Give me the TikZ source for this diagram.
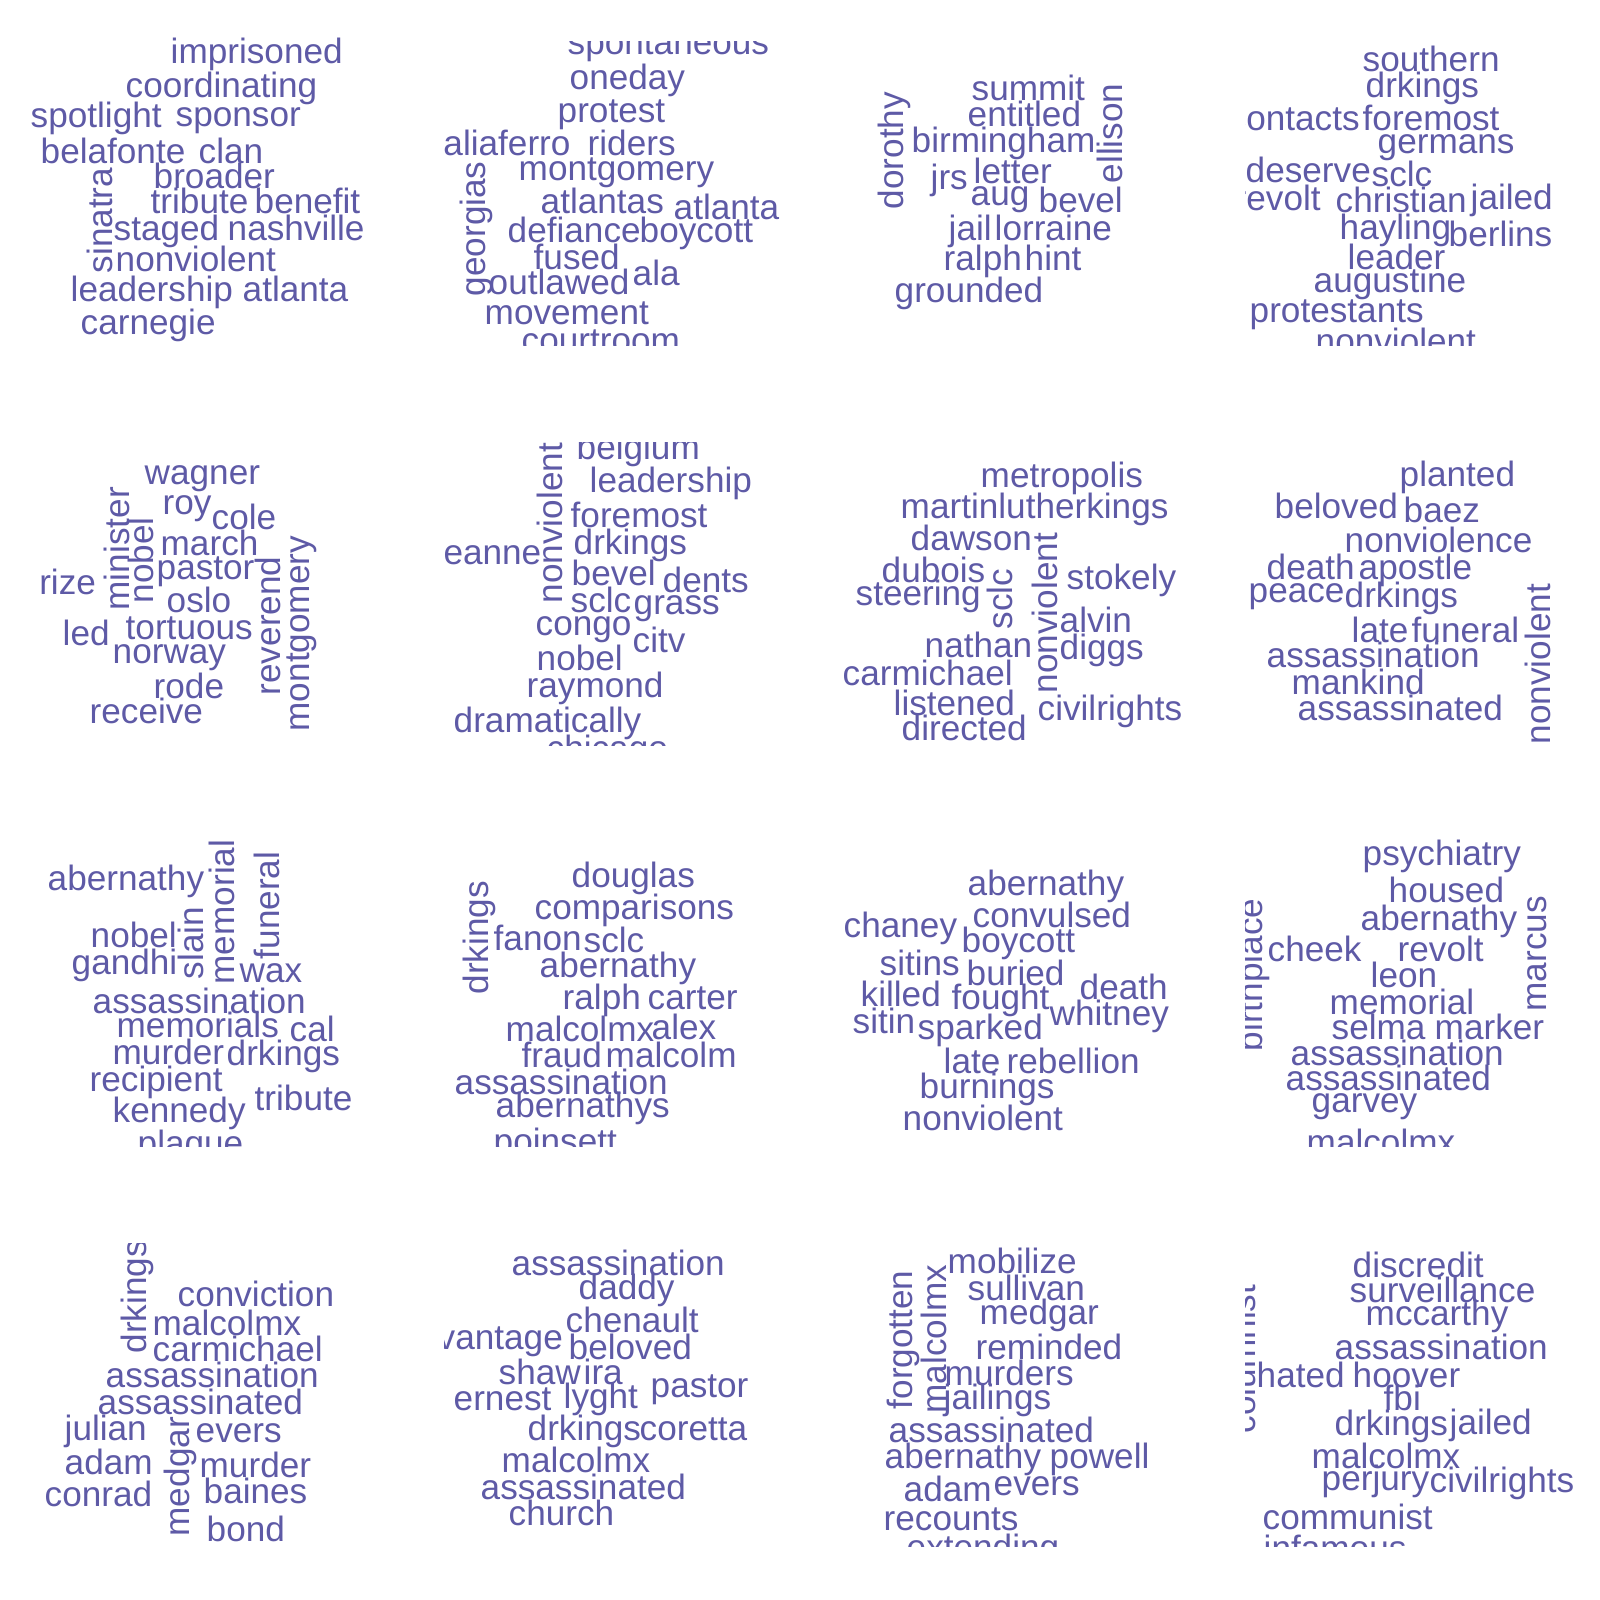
\documentclass[tikz,border=0pt]{standalone}
\usepackage{fontspec}
\newfontfamily\cloudfont{Liberation Sans}
\definecolor{cloudcol}{RGB}{94,90,166}
\tikzset{
  cloudword/.style={font=\cloudfont\fontsize{10}{12}\selectfont, text=cloudcol, inner sep=0pt, anchor=base west, xshift=-0.02cm, yshift=-0.02cm},
  cloudvert/.style={cloudword, rotate=90}
}
\begin{document}
\begin{tikzpicture}[x=0.01cm, y=-0.01cm]
\pgfmathsetmacro{\panelw}{345}
\pgfmathsetmacro{\panelh}{303.3}
\useasboundingbox (0,0) rectangle (1600,1600);
% row 1
\begin{scope}
\clip (20,30) rectangle (390,345);
\node[cloudword] (a-imprisoned) at (172,62) {imprisoned};
\node[cloudword] (a-coordinating) at (127,96) {coordinating};
\node[cloudword] (a-spotlight) at (32,126) {spotlight};
\node[cloudword] (a-sponsor) at (177,124) {sponsor};
\node[cloudword] (a-belafonte) at (42,161) {belafonte};
\node[cloudword] (a-clan) at (200,161) {clan};
\node[cloudword] (a-broader) at (155,186) {broader};
\node[cloudword] (a-tribute) at (152,212) {tribute};
\node[cloudword] (a-benefit) at (256,212) {benefit};
\node[cloudword] (a-staged) at (115,238) {staged};
\node[cloudword] (a-nashville) at (229,238) {nashville};
\node[cloudword] (a-nonviolent) at (117,269) {nonviolent};
\node[cloudword] (a-leadership) at (72,299) {leadership};
\node[cloudword] (a-atlanta) at (244,299) {atlanta};
\node[cloudword] (a-carnegie) at (82,332) {carnegie};
\node[cloudvert] (a-sinatra) at (114,272) {sinatra};
\end{scope}
\begin{scope}
\clip (444,41.7) rectangle ++(\panelw,\panelh);
\node[cloudword] (b-spontaneous) at (569,53) {spontaneous};
\node[cloudword] (b-oneday) at (571,87) {oneday};
\node[cloudword] (b-protest) at (559,120) {protest};
\node[cloudword] (b-taliaferro) at (435,153) {taliaferro};
\node[cloudword] (b-riders) at (589,153) {riders};
\node[cloudword] (b-montgomery) at (520,178) {montgomery};
\node[cloudword] (b-atlantas) at (542,212) {atlantas};
\node[cloudword] (b-atlanta) at (675,217) {atlanta};
\node[cloudword] (b-defiance) at (509,240) {defiance};
\node[cloudword] (b-boycott) at (641,240) {boycott};
\node[cloudword] (b-fused) at (535,267) {fused};
\node[cloudword] (b-outlawed) at (490,292) {outlawed};
\node[cloudword] (b-ala) at (634,283) {ala};
\node[cloudword] (b-movement) at (486,322) {movement};
\node[cloudword] (b-courtroom) at (523,350) {courtroom};
\node[cloudvert] (b-georgias) at (487,295) {georgias};
\end{scope}
\begin{scope}
\clip (844.5,41.7) rectangle ++(\panelw,\panelh);
\node[cloudword] (c-summit) at (973,98) {summit};
\node[cloudword] (c-entitled) at (969,124) {entitled};
\node[cloudword] (c-birmingham) at (913,150) {birmingham};
\node[cloudword] (c-jrs) at (932,187) {jrs};
\node[cloudword] (c-letter) at (975,182) {letter};
\node[cloudword] (c-aug) at (972,203) {aug};
\node[cloudword] (c-bevel) at (1040,210) {bevel};
\node[cloudword] (c-jail) at (950,238) {jail};
\node[cloudword] (c-lorraine) at (996,238) {lorraine};
\node[cloudword] (c-ralph) at (945,268) {ralph};
\node[cloudword] (c-hint) at (1026,268) {hint};
\node[cloudword] (c-grounded) at (896,300) {grounded};
\node[cloudvert] (c-dorothy) at (905,208) {dorothy};
\node[cloudvert] (c-ellison) at (1124,182) {ellison};
\end{scope}
\begin{scope}
\clip (1245,41.7) rectangle ++(\panelw,\panelh);
\node[cloudword] (d-southern) at (1364,70) {southern};
\node[cloudword] (d-drkings) at (1367,96) {drkings};
\node[cloudword] (d-contacts) at (1230,129) {contacts};
\node[cloudword] (d-foremost) at (1364,129) {foremost};
\node[cloudword] (d-germans) at (1379,152) {germans};
\node[cloudword] (d-deserve) at (1247,180) {deserve};
\node[cloudword] (d-sclc) at (1373,185) {sclc};
\node[cloudword] (d-revolt) at (1236,208) {revolt};
\node[cloudword] (d-christian) at (1337,210) {christian};
\node[cloudword] (d-jailed) at (1472,207) {jailed};
\node[cloudword] (d-hayling) at (1341,237) {hayling};
\node[cloudword] (d-berlins) at (1450,244) {berlins};
\node[cloudword] (d-leader) at (1349,267) {leader};
\node[cloudword] (d-augustine) at (1315,290) {augustine};
\node[cloudword] (d-protestants) at (1251,320) {protestants};
\node[cloudword] (d-nonviolent) at (1317,351) {nonviolent};
\end{scope}
% row 2
\begin{scope}
\clip (40,442.2) rectangle ++(\panelw,\panelh);
\node[cloudword] (e-wagner) at (146,482) {wagner};
\node[cloudword] (e-roy) at (164,512) {roy};
\node[cloudword] (e-cole) at (213,527) {cole};
\node[cloudword] (e-march) at (162,553) {march};
\node[cloudword] (e-pastor) at (158,577) {pastor};
\node[cloudword] (e-prize) at (21,592) {prize};
\node[cloudword] (e-oslo) at (168,610) {oslo};
\node[cloudword] (e-led) at (64,643) {led};
\node[cloudword] (e-tortuous) at (127,637) {tortuous};
\node[cloudword] (e-norway) at (114,661) {norway};
\node[cloudword] (e-rode) at (155,696) {rode};
\node[cloudword] (e-receive) at (91,721) {receive};
\node[cloudvert] (e-minister) at (131,609) {minister};
\node[cloudvert] (e-nobel) at (156,602) {nobel};
\node[cloudvert] (e-reverend) at (282,694) {reverend};
\node[cloudvert] (e-montgomery) at (311,730) {montgomery};
\end{scope}
\begin{scope}
\clip (444,442.2) rectangle ++(\panelw,\panelh);
\node[cloudword] (f-belgium) at (578,457) {belgium};
\node[cloudword] (f-leadership) at (591,490) {leadership};
\node[cloudword] (f-foremost) at (572,525) {foremost};
\node[cloudword] (f-drkings) at (575,552) {drkings};
\node[cloudword] (f-jeanne) at (437,562) {jeanne};
\node[cloudword] (f-bevel) at (573,583) {bevel};
\node[cloudword] (f-dents) at (664,590) {dents};
\node[cloudword] (f-sclc) at (572,610) {sclc};
\node[cloudword] (f-grass) at (635,612) {grass};
\node[cloudword] (f-congo) at (537,633) {congo};
\node[cloudword] (f-citv) at (634,650) {citv};
\node[cloudword] (f-nobel) at (538,668) {nobel};
\node[cloudword] (f-raymond) at (528,695) {raymond};
\node[cloudword] (f-dramatically) at (455,730) {dramatically};
\node[cloudword] (f-chicago) at (548,758) {chicago};
\node[cloudvert] (f-nonviolent) at (564,602) {nonviolent};
\end{scope}
\begin{scope}
\clip (844.5,442.2) rectangle ++(\panelw,\panelh);
\node[cloudword] (g-metropolis) at (982,485) {metropolis};
\node[cloudword] (g-martinlutherkings) at (902,516) {martinlutherkings};
\node[cloudword] (g-dawson) at (912,548) {dawson};
\node[cloudword] (g-dubois) at (883,580) {dubois};
\node[cloudword] (g-steering) at (857,603) {steering};
\node[cloudword] (g-stokely) at (1068,587) {stokely};
\node[cloudword] (g-alvin) at (1061,630) {alvin};
\node[cloudword] (g-nathan) at (926,655) {nathan};
\node[cloudword] (g-diggs) at (1061,657) {diggs};
\node[cloudword] (g-carmichael) at (844,683) {carmichael};
\node[cloudword] (g-listened) at (895,713) {listened};
\node[cloudword] (g-civilrights) at (1039,718) {civilrights};
\node[cloudword] (g-directed) at (903,738) {directed};
\node[cloudvert] (g-sclc) at (1014,628) {sclc};
\node[cloudvert] (g-nonviolent) at (1059,692) {nonviolent};
\end{scope}
\begin{scope}
\clip (1245,442.2) rectangle ++(\panelw,\panelh);
\node[cloudword] (h-planted) at (1401,484) {planted};
\node[cloudword] (h-beloved) at (1276,516) {beloved};
\node[cloudword] (h-baez) at (1405,520) {baez};
\node[cloudword] (h-nonviolence) at (1346,550) {nonviolence};
\node[cloudword] (h-death) at (1268,577) {death};
\node[cloudword] (h-apostle) at (1360,577) {apostle};
\node[cloudword] (h-peace) at (1250,600) {peace};
\node[cloudword] (h-drkings) at (1346,605) {drkings};
\node[cloudword] (h-late) at (1353,640) {late};
\node[cloudword] (h-funeral) at (1413,640) {funeral};
\node[cloudword] (h-assassination) at (1268,665) {assassination};
\node[cloudword] (h-mankind) at (1293,692) {mankind};
\node[cloudword] (h-assassinated) at (1299,718) {assassinated};
\node[cloudvert] (h-nonviolent) at (1552,743) {nonviolent};
\end{scope}
% row 3
\begin{scope}
\clip (43.5,836) rectangle (388.5,1146);
\node[cloudword] (i-abernathy) at (49,888) {abernathy};
\node[cloudword] (i-nobel) at (92,945) {nobel};
\node[cloudword] (i-gandhi) at (73,972) {gandhi};
\node[cloudword] (i-wax) at (241,980) {wax};
\node[cloudword] (i-assassination) at (94,1011) {assassination};
\node[cloudword] (i-memorials) at (118,1035) {memorials};
\node[cloudword] (i-cal) at (291,1039) {cal};
\node[cloudword] (i-murder) at (114,1062) {murder};
\node[cloudword] (i-drkings) at (228,1063) {drkings};
\node[cloudword] (i-recipient) at (91,1089) {recipient};
\node[cloudword] (i-tribute) at (256,1108) {tribute};
\node[cloudword] (i-kennedy) at (114,1120) {kennedy};
\node[cloudword] (i-plaque) at (139,1153) {plaque};
\node[cloudvert] (i-slain) at (205,978) {slain};
\node[cloudvert] (i-memorial) at (236,983) {memorial};
\node[cloudvert] (i-funeral) at (281,958) {funeral};
\end{scope}
\begin{scope}
\clip (444,836) rectangle (789,1146);
\node[cloudword] (j-douglas) at (573,885) {douglas};
\node[cloudword] (j-comparisons) at (536,917) {comparisons};
\node[cloudword] (j-fanon) at (495,948) {fanon};
\node[cloudword] (j-sclc) at (585,950) {sclc};
\node[cloudword] (j-abernathy) at (541,975) {abernathy};
\node[cloudword] (j-ralph) at (564,1007) {ralph};
\node[cloudword] (j-carter) at (649,1007) {carter};
\node[cloudword] (j-malcolmx) at (507,1039) {malcolmx};
\node[cloudword] (j-alex) at (653,1037) {alex};
\node[cloudword] (j-fraud) at (523,1065) {fraud};
\node[cloudword] (j-malcolm) at (607,1065) {malcolm};
\node[cloudword] (j-assassination) at (456,1092) {assassination};
\node[cloudword] (j-abernathys) at (497,1115) {abernathys};
\node[cloudword] (j-poinsett) at (495,1151) {poinsett};
\node[cloudvert] (j-drkings) at (490,993) {drkings};
\end{scope}
\begin{scope}
\clip (844.5,836) rectangle (1189.5,1146);
\node[cloudword] (k-abernathy) at (969,893) {abernathy};
\node[cloudword] (k-chaney) at (845,935) {chaney};
\node[cloudword] (k-convulsed) at (974,925) {convulsed};
\node[cloudword] (k-boycott) at (963,950) {boycott};
\node[cloudword] (k-sitins) at (881,973) {sitins};
\node[cloudword] (k-buried) at (968,983) {buried};
\node[cloudword] (k-killed) at (862,1004) {killed};
\node[cloudword] (k-fought) at (953,1007) {fought};
\node[cloudword] (k-death) at (1081,997) {death};
\node[cloudword] (k-sitin) at (854,1031) {sitin};
\node[cloudword] (k-sparked) at (919,1037) {sparked};
\node[cloudword] (k-whitney) at (1051,1023) {whitney};
\node[cloudword] (k-late) at (945,1071) {late};
\node[cloudword] (k-rebellion) at (1008,1071) {rebellion};
\node[cloudword] (k-burnings) at (921,1096) {burnings};
\node[cloudword] (k-nonviolent) at (904,1128) {nonviolent};
\end{scope}
\begin{scope}
\clip (1245,836) rectangle (1590,1146);
\node[cloudword] (l-psychiatry) at (1364,863) {psychiatry};
\node[cloudword] (l-housed) at (1390,900) {housed};
\node[cloudword] (l-abernathy) at (1362,928) {abernathy};
\node[cloudword] (l-cheek) at (1269,959) {cheek};
\node[cloudword] (l-revolt) at (1399,959) {revolt};
\node[cloudword] (l-leon) at (1372,985) {leon};
\node[cloudword] (l-memorial) at (1331,1012) {memorial};
\node[cloudword] (l-selma) at (1333,1037) {selma};
\node[cloudword] (l-marker) at (1436,1037) {marker};
\node[cloudword] (l-assassination) at (1292,1063) {assassination};
\node[cloudword] (l-assassinated) at (1287,1088) {assassinated};
\node[cloudword] (l-garvey) at (1313,1110) {garvey};
\node[cloudword] (l-malcolmx) at (1308,1152) {malcolmx};
\node[cloudvert] (l-birthplace) at (1264,1050) {birthplace};
\node[cloudvert] (l-marcus) at (1548,1010) {marcus};
\end{scope}
% row 4
\begin{scope}
\clip (43.5,1243.2) rectangle ++(\panelw,\panelh);
\node[cloudword] (m-conviction) at (179,1304) {conviction};
\node[cloudword] (m-malcolmx) at (154,1333) {malcolmx};
\node[cloudword] (m-carmichael) at (154,1359) {carmichael};
\node[cloudword] (m-assassination) at (107,1385) {assassination};
\node[cloudword] (m-assassinated) at (99,1412) {assassinated};
\node[cloudword] (m-julian) at (66,1438) {julian};
\node[cloudword] (m-evers) at (197,1440) {evers};
\node[cloudword] (m-adam) at (66,1472) {adam};
\node[cloudword] (m-murder) at (201,1475) {murder};
\node[cloudword] (m-conrad) at (46,1504) {conrad};
\node[cloudword] (m-baines) at (205,1501) {baines};
\node[cloudword] (m-bond) at (208,1539) {bond};
\node[cloudvert] (m-drkings) at (149,1352) {drkings};
\node[cloudvert] (m-medgar) at (191,1535) {medgar};
\end{scope}
\begin{scope}
\clip (444,1243.2) rectangle ++(\panelw,\panelh);
\node[cloudword] (n-assassination) at (513,1273) {assassination};
\node[cloudword] (n-daddy) at (580,1297) {daddy};
\node[cloudword] (n-chenault) at (567,1330) {chenault};
\node[cloudword] (n-vantage) at (439,1347) {vantage};
\node[cloudword] (n-beloved) at (570,1357) {beloved};
\node[cloudword] (n-shaw) at (500,1382) {shaw};
\node[cloudword] (n-ira) at (585,1382) {ira};
\node[cloudword] (n-pastor) at (652,1395) {pastor};
\node[cloudword] (n-ernest) at (455,1408) {ernest};
\node[cloudword] (n-lyght) at (565,1406) {lyght};
\node[cloudword] (n-drkings) at (529,1438) {drkings};
\node[cloudword] (n-coretta) at (641,1438) {coretta};
\node[cloudword] (n-malcolmx) at (503,1470) {malcolmx};
\node[cloudword] (n-assassinated) at (482,1497) {assassinated};
\node[cloudword] (n-church) at (510,1523) {church};
\end{scope}
\begin{scope}
\clip (844.5,1243.2) rectangle ++(\panelw,\panelh);
\node[cloudword] (o-mobilize) at (949,1271) {mobilize};
\node[cloudword] (o-sullivan) at (969,1298) {sullivan};
\node[cloudword] (o-medgar) at (981,1322) {medgar};
\node[cloudword] (o-reminded) at (977,1357) {reminded};
\node[cloudword] (o-murders) at (946,1383) {murders};
\node[cloudword] (o-jailings) at (945,1407) {jailings};
\node[cloudword] (o-assassinated) at (890,1440) {assassinated};
\node[cloudword] (o-abernathy) at (886,1466) {abernathy};
\node[cloudword] (o-powell) at (1051,1466) {powell};
\node[cloudword] (o-adam) at (905,1499) {adam};
\node[cloudword] (o-evers) at (995,1493) {evers};
\node[cloudword] (o-recounts) at (885,1528) {recounts};
\node[cloudword] (o-extending) at (908,1557) {extending};
\node[cloudvert] (o-forgotten) at (914,1408) {forgotten};
\node[cloudvert] (o-malcolmx) at (948,1412) {malcolmx};
\end{scope}
\begin{scope}
\clip (1245,1243.2) rectangle ++(\panelw,\panelh);
\node[cloudword] (p-discredit) at (1354,1275) {discredit};
\node[cloudword] (p-surveillance) at (1351,1300) {surveillance};
\node[cloudword] (p-mccarthy) at (1367,1323) {mccarthy};
\node[cloudword] (p-assassination) at (1336,1357) {assassination};
\node[cloudword] (p-hated) at (1258,1385) {hated};
\node[cloudword] (p-hoover) at (1354,1385) {hoover};
\node[cloudword] (p-fbi) at (1385,1408) {fbi};
\node[cloudword] (p-drkings) at (1336,1433) {drkings};
\node[cloudword] (p-jailed) at (1451,1432) {jailed};
\node[cloudword] (p-malcolmx) at (1313,1466) {malcolmx};
\node[cloudword] (p-perjury) at (1323,1488) {perjury};
\node[cloudword] (p-civilrights) at (1431,1490) {civilrights};
\node[cloudword] (p-communist) at (1264,1527) {communist};
\node[cloudword] (p-infamous) at (1265,1558) {infamous};
\node[cloudvert] (p-columnist) at (1257,1432) {columnist};
\end{scope}
\end{tikzpicture}
\end{document}
